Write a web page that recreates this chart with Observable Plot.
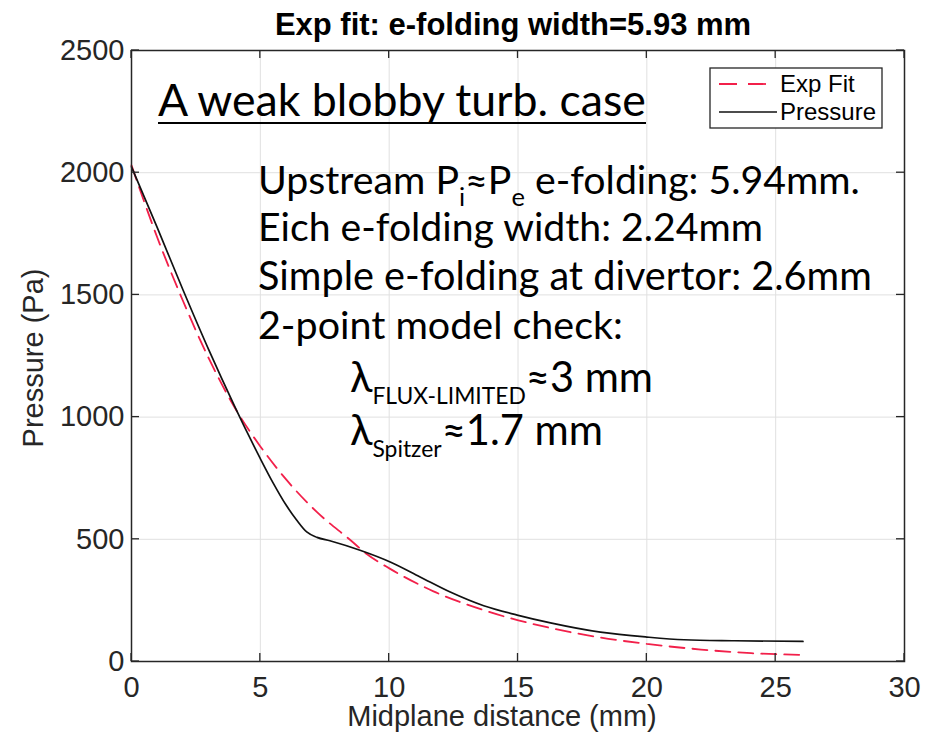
<!DOCTYPE html>
<html><head><meta charset="utf-8">
<script src="https://cdn.jsdelivr.net/npm/d3@7"></script>
<script src="https://cdn.jsdelivr.net/npm/@observablehq/plot@0.6"></script>
<style>body{margin:0;background:#fff;} #chart{width:932px;height:733px;}</style>
</head><body><div id="chart"></div>
<script>
// ---- data ----
const pressureX = [0, 1.0, 2.0, 3.0, 4.0, 4.5, 5.0, 5.5, 6.0, 6.4, 6.8, 7.2, 7.7, 8.87, 10.04, 11.2, 12.37, 13.67, 14.97, 16.26, 18.2, 20.0, 21.45, 23.4, 26.06];
const pressureY = [2024, 1775, 1520, 1275, 1045, 935, 830, 730, 640, 580, 530, 508, 494, 455, 407, 346, 284, 228, 190, 158, 120, 100, 89, 85, 82];
const fitX = [0, 1.0, 2.0, 3.0, 4.0, 5.0, 6.0, 7.19, 8.48, 9.13, 10.04, 11.72, 13.67, 16.26, 18.2, 20.0, 22.1, 24.05, 26.06];
const fitY = [2030, 1735, 1475, 1240, 1040, 880, 745, 612, 498, 440, 379, 287, 210, 137, 98, 72, 49, 34, 27];
const xTicks = [0, 5, 10, 15, 20, 25, 30];
const yTicks = [0, 500, 1000, 1500, 2000, 2500];
const titleText = "Exp fit: e-folding width=5.93 mm";
const xLabel = "Midplane distance (mm)";
const yLabel = "Pressure (Pa)";
const seriesNames = ["Exp Fit", "Pressure"];
const seriesColors = ["#f2204a", "#111111"];
const caseLabel = "A weak blobby turb. case";
const noteLines = [
  [{t: "Upstream P"}, {t: "i", sub: true}, {t: "≈P"}, {t: "e", sub: true}, {t: " e-folding: 5.94mm."}],
  [{t: "Eich e-folding width: 2.24mm"}],
  [{t: "Simple e-folding at divertor: 2.6mm"}],
  [{t: "2-point model check:"}],
  [{t: "λ"}, {t: "FLUX-LIMITED", sub: true}, {t: "≈3 mm"}],
  [{t: "λ"}, {t: "Spitzer", sub: true}, {t: "≈1.7 mm"}]
];

(function () {
const pressure = pressureX.map((x, i) => ({x, y: pressureY[i], s: seriesNames[1]}));
const fit = fitX.map((x, i) => ({x, y: fitY[i], s: seriesNames[0]}));

const plot = Plot.plot({
  width: 932, height: 733,
  marginLeft: 131, marginRight: 28, marginTop: 50, marginBottom: 72,
  style: {fontFamily: "'Liberation Sans', Arial, sans-serif", background: "white", color: "#262626", overflow: "visible"},
  x: {domain: [0, 30]},
  y: {domain: [0, 2500]},
  marks: [
    Plot.gridX(xTicks, {stroke: "#e0e0e0", strokeOpacity: 1, strokeWidth: 1}),
    Plot.gridY(yTicks, {stroke: "#e0e0e0", strokeOpacity: 1, strokeWidth: 1}),
    Plot.axisX(xTicks, {tickSize: 0, tickPadding: 15, fontSize: 29, label: null, fill: "#262626", tickFormat: d3.format("d")}),
    Plot.axisY(yTicks, {tickSize: 0, tickPadding: 7, fontSize: 29, label: null, fill: "#262626", tickFormat: d3.format("d")}),
    Plot.line(fit, {x: "x", y: "y", stroke: seriesColors[0], strokeWidth: 1.8, strokeDasharray: "15,8", curve: "monotone-x"}),
    Plot.line(pressure, {x: "x", y: "y", stroke: seriesColors[1], strokeWidth: 1.7, curve: "monotone-x"}),
    Plot.frame({stroke: "#262626", strokeWidth: 1.5})
  ]
});
document.getElementById("chart").appendChild(plot);

const svg = d3.select(plot);
const xs = plot.scale("x"), ys = plot.scale("y");
const X = v => xs.apply(v), Y = v => ys.apply(v);
const pLeft = X(0), pRight = X(30), pBottom = Y(0), pTop = Y(2500);

// inward ticks on all four sides
const tg = svg.append("g").attr("stroke", "#262626").attr("stroke-width", 1.3);
xTicks.forEach(v => {
  tg.append("line").attr("x1", X(v)).attr("x2", X(v)).attr("y1", pBottom).attr("y2", pBottom - 8);
  tg.append("line").attr("x1", X(v)).attr("x2", X(v)).attr("y1", pTop).attr("y2", pTop + 8);
});
yTicks.forEach(v => {
  tg.append("line").attr("y1", Y(v)).attr("y2", Y(v)).attr("x1", pLeft).attr("x2", pLeft + 8);
  tg.append("line").attr("y1", Y(v)).attr("y2", Y(v)).attr("x1", pRight).attr("x2", pRight - 8);
});

const helv = "'Liberation Sans', Arial, sans-serif";
// title
svg.append("text").attr("x", 513).attr("y", 35).attr("text-anchor", "middle")
  .attr("font-family", helv).attr("font-weight", "bold").attr("font-size", 31).attr("fill", "#000").text(titleText);
// axis labels
svg.append("text").attr("x", 502).attr("y", 726).attr("text-anchor", "middle")
  .attr("font-family", helv).attr("font-size", 29).attr("fill", "#262626").text(xLabel);
svg.append("text").attr("transform", "translate(43,358) rotate(-90)").attr("text-anchor", "middle")
  .attr("font-family", helv).attr("font-size", 29).attr("fill", "#262626").text(yLabel);

// legend
const lg = svg.append("g").attr("text-anchor", "start");
lg.append("rect").attr("x", 710).attr("y", 68).attr("width", 172).attr("height", 60)
  .attr("fill", "white").attr("stroke", "#262626").attr("stroke-width", 1.3);
lg.append("line").attr("x1", 719).attr("x2", 767).attr("y1", 84).attr("y2", 84)
  .attr("stroke", seriesColors[0]).attr("stroke-width", 1.8).attr("stroke-dasharray", "18,11");
lg.append("line").attr("x1", 719).attr("x2", 777).attr("y1", 112).attr("y2", 112)
  .attr("stroke", seriesColors[1]).attr("stroke-width", 1.7);
lg.append("text").attr("x", 780).attr("y", 92).attr("font-family", helv).attr("font-size", 24).attr("fill", "#000").text(seriesNames[0]);
lg.append("text").attr("x", 780).attr("y", 120).attr("font-family", helv).attr("font-size", 24).attr("fill", "#000").text(seriesNames[1]);

// rich annotation text, scaled to fit the width seen in the reference
function rich(x, y, parts, width, subRatio, subShift) {
  const t = svg.append("text").attr("x", x).attr("y", y).attr("text-anchor", "start")
    .attr("font-family", "Lato, sans-serif").attr("fill", "#000");
  function build(size) {
    t.selectAll("tspan").remove();
    t.attr("font-size", size);
    let shifted = 0;
    parts.forEach(p => {
      const s = t.append("tspan").text(p.t);
      if (p.sub) {
        s.attr("font-size", size * subRatio).attr("dy", size * subShift - shifted);
        shifted = size * subShift;
      } else if (shifted) {
        s.attr("dy", -shifted);
        shifted = 0;
      }
    });
  }
  build(36);
  const w = t.node().getComputedTextLength();
  build(36 * width / w);
  return t;
}
rich(158, 116, [{t: caseLabel}], 488, 0.6, 0.3);
svg.append("line").attr("x1", 158).attr("x2", 646).attr("y1", 123).attr("y2", 123).attr("stroke", "#000").attr("stroke-width", 2);

const noteX = [258, 258, 258, 258, 350, 350];
const noteY = [194, 241, 290, 339, 392, 445];
const noteW = [602, 505, 614, 365, 303, 253];
const subR = [0.65, 0.6, 0.6, 0.6, 0.55, 0.55];
noteLines.forEach((parts, i) => rich(noteX[i], noteY[i], parts, noteW[i], subR[i], 0.3));
})();
</script>
</body></html>
